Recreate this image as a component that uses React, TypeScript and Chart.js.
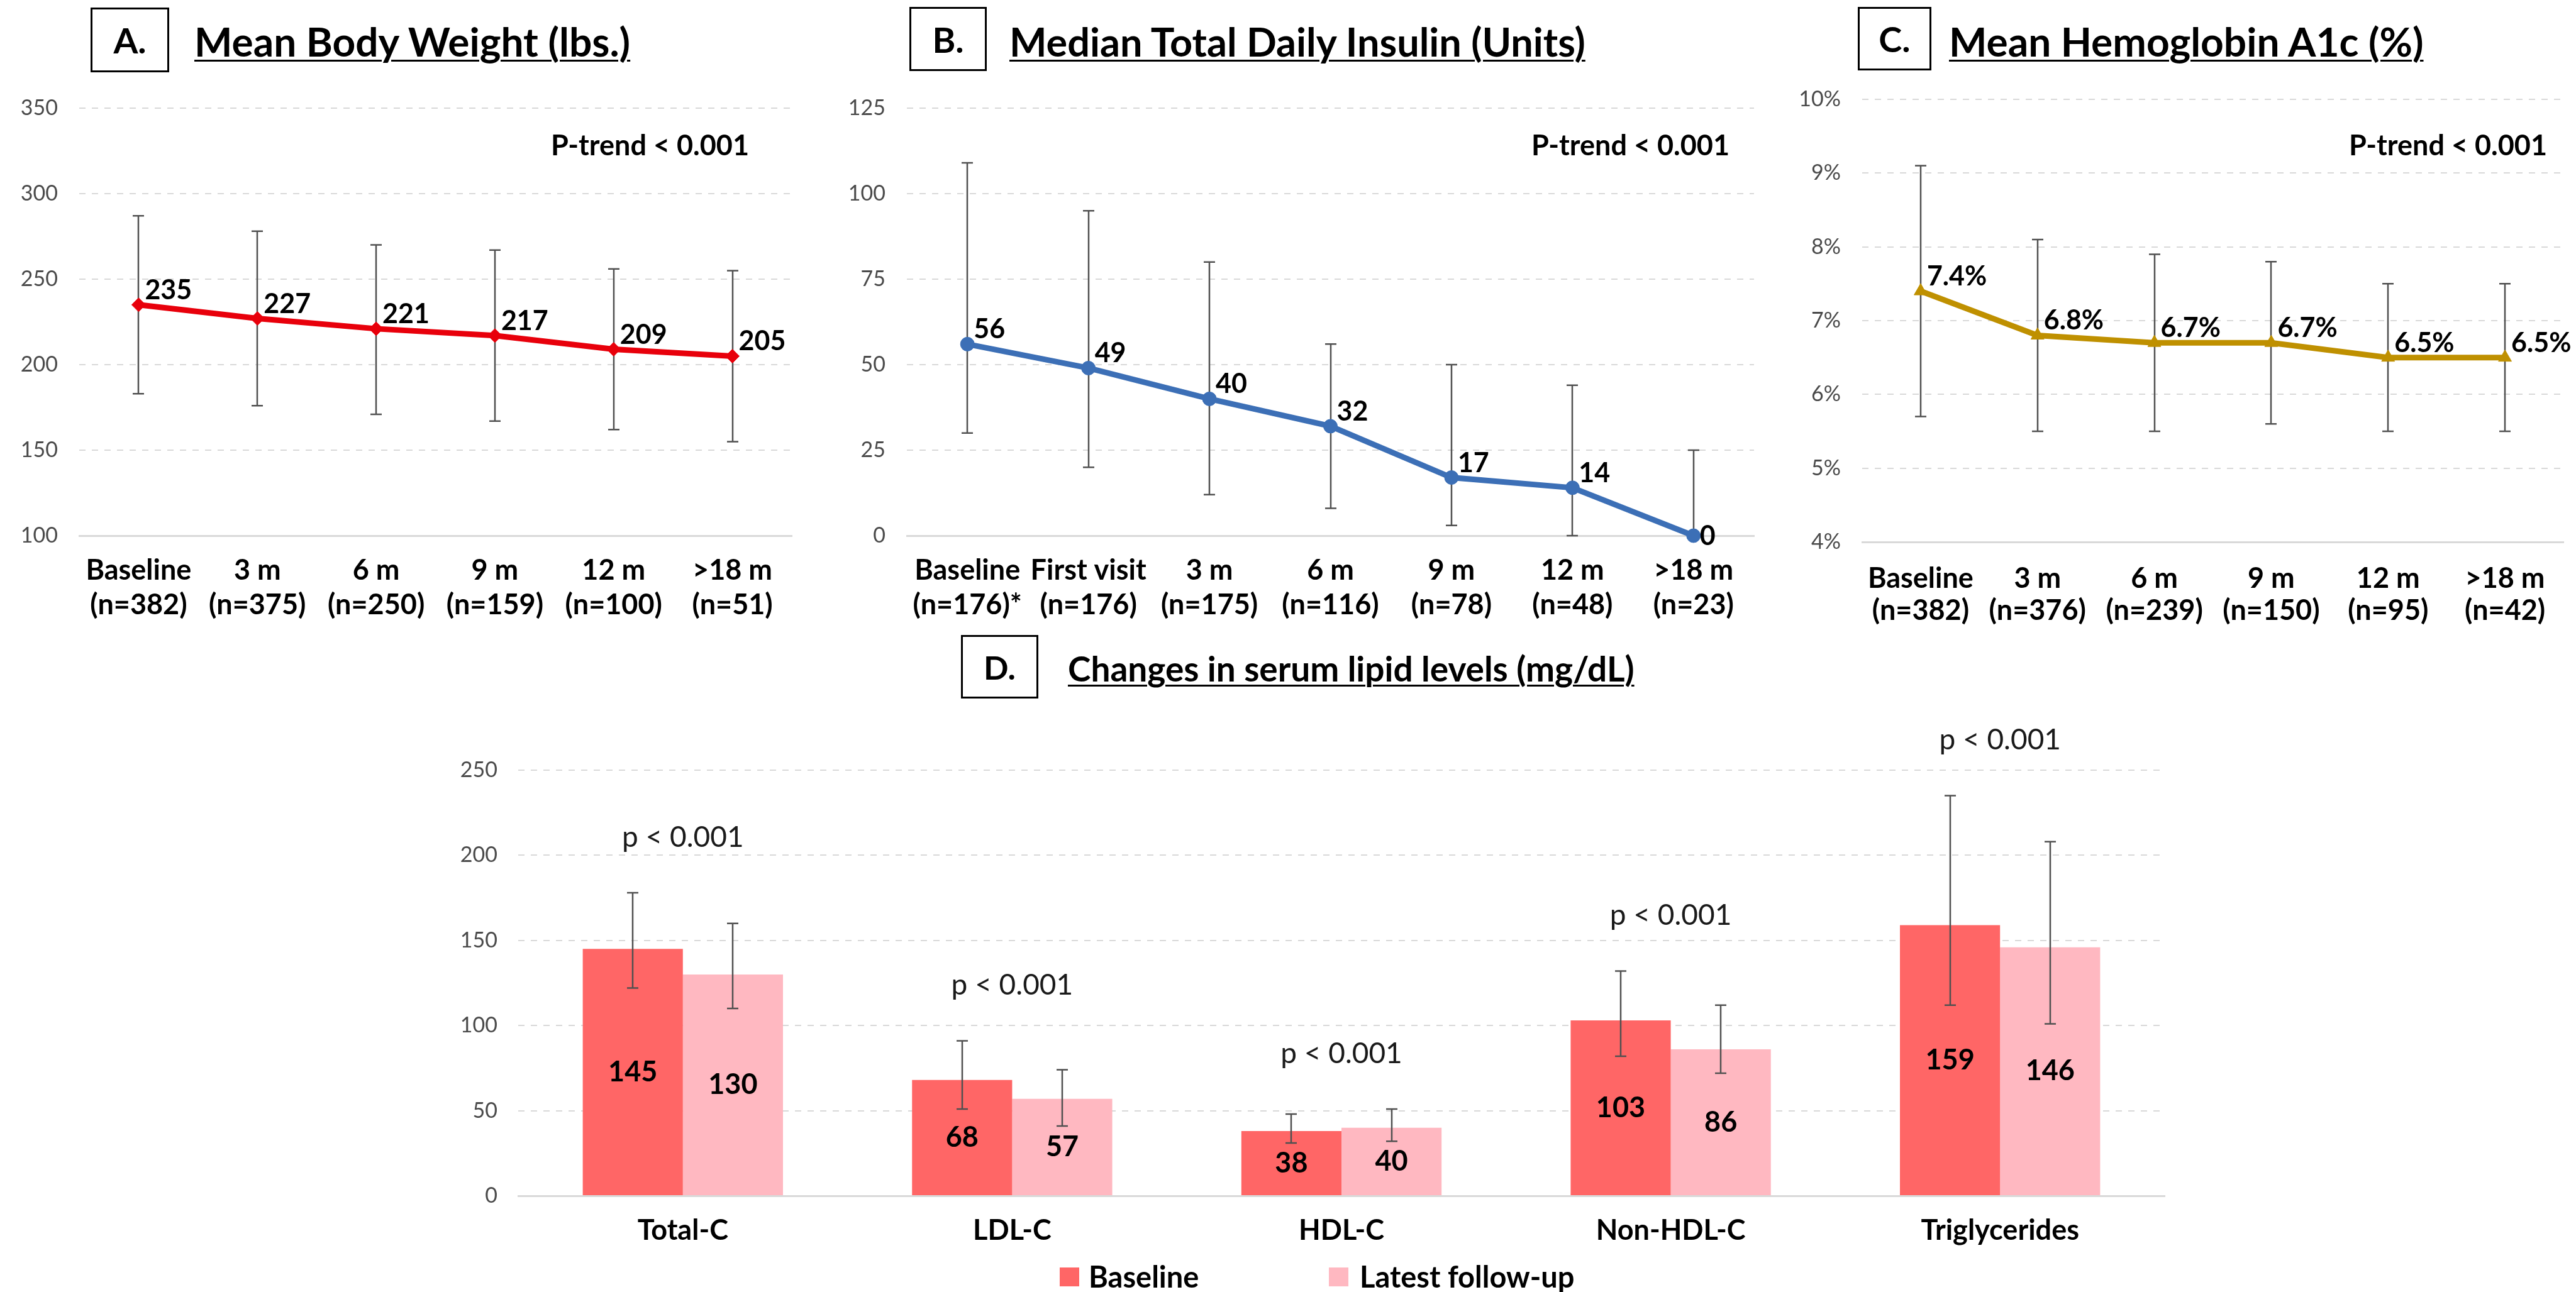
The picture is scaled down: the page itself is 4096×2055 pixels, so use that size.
import React, { useEffect, useRef } from 'react';
import { Chart, registerables } from 'chart.js';

Chart.register(...registerables);

const FONT = "Lato, 'Open Sans', 'DejaVu Sans', sans-serif";

// ---------- Panel A: Mean Body Weight ----------
const weightLabels = [
  ['Baseline', '(n=382)'], ['3 m', '(n=375)'], ['6 m', '(n=250)'],
  ['9 m', '(n=159)'], ['12 m', '(n=100)'], ['>18 m', '(n=51)'],
];
const weightMean = [235, 227, 221, 217, 209, 205];
const weightHigh = [287, 278, 270, 267, 256, 255];
const weightLow = [183, 176, 171, 167, 162, 155];
const weightAxis = [100, 350, 50];

// ---------- Panel B: Median Total Daily Insulin ----------
const insulinLabels = [
  ['Baseline', '(n=176)*'], ['First visit', '(n=176)'], ['3 m', '(n=175)'],
  ['6 m', '(n=116)'], ['9 m', '(n=78)'], ['12 m', '(n=48)'], ['>18 m', '(n=23)'],
];
const insulinMedian = [56, 49, 40, 32, 17, 14, 0];
const insulinHigh = [109, 95, 80, 56, 50, 44, 25];
const insulinLow = [30, 20, 12, 8, 3, 0, 0];
const insulinAxis = [0, 125, 25];

// ---------- Panel C: Mean Hemoglobin A1c ----------
const a1cLabels = [
  ['Baseline', '(n=382)'], ['3 m', '(n=376)'], ['6 m', '(n=239)'],
  ['9 m', '(n=150)'], ['12 m', '(n=95)'], ['>18 m', '(n=42)'],
];
const a1cMean = [7.4, 6.8, 6.7, 6.7, 6.5, 6.5];
const a1cHigh = [9.1, 8.1, 7.9, 7.8, 7.5, 7.5];
const a1cLow = [5.7, 5.5, 5.5, 5.6, 5.5, 5.5];
const a1cAxis = [4, 10, 1];

// ---------- Panel D: Serum lipids ----------
const lipidLabels = ['Total-C', 'LDL-C', 'HDL-C', 'Non-HDL-C', 'Triglycerides'];
const lipidBaseline = [145, 68, 38, 103, 159];
const lipidBaselineHigh = [178, 91, 48, 132, 235];
const lipidBaselineLow = [122, 51, 31, 82, 112];
const lipidFollowup = [130, 57, 40, 86, 146];
const lipidFollowupHigh = [160, 74, 51, 112, 208];
const lipidFollowupLow = [110, 41, 32, 72, 101];
const lipidPValues = ['p < 0.001', 'p < 0.001', 'p < 0.001', 'p < 0.001', 'p < 0.001'];
const lipidSeriesNames = ['Baseline', 'Latest follow-up'];
const lipidAxis = [0, 250, 50];

const pTrendText = 'P-trend < 0.001';

// ---------- shared helpers ----------
const GRID = '#D9D9D9';
const TICK = '#4a4a4a';
const ERR = '#505050';
const CAP = 9;

function drawErrorBars(chart: any, sets: { low: number[]; high: number[] }[]) {
  const ctx = chart.ctx;
  const ys = chart.scales.y;
  ctx.save();
  ctx.strokeStyle = ERR;
  ctx.lineWidth = 2.5;
  sets.forEach((s, di) => {
    const meta = chart.getDatasetMeta(di);
    meta.data.forEach((el: any, i: number) => {
      const x = Math.round(el.x);
      const yh = ys.getPixelForValue(s.high[i]);
      const yl = ys.getPixelForValue(s.low[i]);
      ctx.beginPath();
      ctx.moveTo(x, yh);
      ctx.lineTo(x, yl);
      ctx.moveTo(x - CAP, yh);
      ctx.lineTo(x + CAP, yh);
      ctx.moveTo(x - CAP, yl);
      ctx.lineTo(x + CAP, yl);
      ctx.stroke();
    });
  });
  ctx.restore();
}

type LineSpec = {
  labels: string[][];
  values: number[];
  high: number[];
  low: number[];
  axis: number[];
  color: string;
  pointStyle: string;
  pointRadius: number;
  fmt: (v: number) => string;
  tickFmt: (v: number) => string;
  canvas: { left: number; top: number; width: number; height: number };
  area: { left: number; top: number; right: number; bottom: number };
  xPad: number;
  lineHeight: number;
  pTrendRight: number;
};

function lineConfig(p: LineSpec): any {
  const padTop = p.area.top - p.canvas.top;
  const padRight = p.canvas.left + p.canvas.width - p.area.right;
  const yW = p.area.left - p.canvas.left;
  const xH = p.canvas.top + p.canvas.height - p.area.bottom;
  return {
    type: 'line',
    data: {
      labels: p.labels,
      datasets: [
        {
          data: p.values,
          borderColor: p.color,
          backgroundColor: p.color,
          borderWidth: 9,
          pointStyle: p.pointStyle,
          pointRadius: p.pointRadius,
          pointBorderWidth: 1,
          tension: 0,
          clip: false,
        },
      ],
    },
    options: {
      responsive: false,
      maintainAspectRatio: false,
      animation: false,
      layout: { padding: { top: padTop, right: padRight, left: 0, bottom: 0 } },
      plugins: { legend: { display: false }, tooltip: { enabled: false } },
      scales: {
        x: {
          offset: true,
          grid: { display: false, drawTicks: false },
          border: { display: true, color: GRID, width: 3 },
          ticks: {
            color: '#000',
            font: { family: FONT, size: 45, weight: 'bold', lineHeight: p.lineHeight },
            padding: p.xPad,
            maxRotation: 0,
            autoSkip: false,
          },
          afterFit: (s: any) => { s.height = xH; },
        },
        y: {
          min: p.axis[0],
          max: p.axis[1],
          ticks: {
            stepSize: p.axis[2],
            color: TICK,
            font: { family: FONT, size: 34 },
            padding: 34,
            callback: (v: any) => p.tickFmt(Number(v)),
          },
          grid: { color: GRID, lineWidth: 2, drawTicks: false },
          border: { display: false, dash: [10, 10] },
          afterFit: (s: any) => { s.width = yW; },
        },
      },
    },
    plugins: [
      {
        id: 'errBars',
        beforeDatasetsDraw: (chart: any) => drawErrorBars(chart, [{ low: p.low, high: p.high }]),
      },
      {
        id: 'labels',
        afterDatasetsDraw: (chart: any) => {
          const ctx = chart.ctx;
          const ys = chart.scales.y;
          const size = 43;
          ctx.save();
          ctx.fillStyle = '#000';
          ctx.font = `bold ${size}px ${FONT}`;
          ctx.textAlign = 'left';
          ctx.textBaseline = 'alphabetic';
          const meta = chart.getDatasetMeta(0);
          meta.data.forEach((el: any, i: number) => {
            const v = p.values[i];
            let by = el.y - 9;
            if (v === ys.min) by = el.y + size * 0.36;
            ctx.fillText(p.fmt(v), el.x + 10, by);
          });
          ctx.font = `bold 45px ${FONT}`;
          ctx.textAlign = 'right';
          ctx.textBaseline = 'middle';
          ctx.fillText(pTrendText, chart.chartArea.right - p.pTrendRight, 232 - p.canvas.top);
          ctx.restore();
        },
      },
    ],
  };
}

function barConfig(canvas: any, area: any): any {
  const padTop = area.top - canvas.top;
  const padRight = canvas.left + canvas.width - area.right;
  const yW = area.left - canvas.left;
  const xH = canvas.top + canvas.height - area.bottom;
  const highs = [lipidBaselineHigh, lipidFollowupHigh];
  const lows = [lipidBaselineLow, lipidFollowupLow];
  return {
    type: 'bar',
    data: {
      labels: lipidLabels,
      datasets: [
        {
          label: lipidSeriesNames[0],
          data: lipidBaseline,
          backgroundColor: '#FF6666',
          barPercentage: 1,
          categoryPercentage: 0.608,
        },
        {
          label: lipidSeriesNames[1],
          data: lipidFollowup,
          backgroundColor: '#FFB8C1',
          barPercentage: 1,
          categoryPercentage: 0.608,
        },
      ],
    },
    options: {
      responsive: false,
      maintainAspectRatio: false,
      animation: false,
      layout: { padding: { top: padTop, right: padRight, left: 0, bottom: 0 } },
      plugins: { legend: { display: false }, tooltip: { enabled: false } },
      scales: {
        x: {
          grid: { display: false, drawTicks: false },
          border: { display: true, color: GRID, width: 3 },
          ticks: {
            color: '#000',
            font: { family: FONT, size: 45, weight: 'bold', lineHeight: 1.2 },
            padding: 28,
            maxRotation: 0,
            autoSkip: false,
          },
          afterFit: (s: any) => { s.height = xH; },
        },
        y: {
          min: lipidAxis[0],
          max: lipidAxis[1],
          ticks: {
            stepSize: lipidAxis[2],
            color: TICK,
            font: { family: FONT, size: 34 },
            padding: 33,
          },
          grid: { color: GRID, lineWidth: 2, drawTicks: false },
          border: { display: false, dash: [10, 10] },
          afterFit: (s: any) => { s.width = yW; },
        },
      },
    },
    plugins: [
      {
        id: 'barExtras',
        afterDatasetsDraw: (chart: any) => {
          const ctx = chart.ctx;
          const ys = chart.scales.y;
          const xs = chart.scales.x;
          drawErrorBars(chart, [
            { low: lows[0], high: highs[0] },
            { low: lows[1], high: highs[1] },
          ]);
          ctx.save();
          // values inside bars
          ctx.fillStyle = '#000';
          ctx.font = `bold 45px ${FONT}`;
          ctx.textAlign = 'center';
          ctx.textBaseline = 'middle';
          chart.data.datasets.forEach((ds: any, di: number) => {
            chart.getDatasetMeta(di).data.forEach((el: any, i: number) => {
              ctx.fillText(String(ds.data[i]), el.x, (el.y + el.base) / 2);
            });
          });
          // p-values above each group
          ctx.fillStyle = '#1a1a1a';
          ctx.font = `46px ${FONT}`;
          lipidLabels.forEach((_, i) => {
            const top = Math.max(highs[0][i], highs[1][i]);
            ctx.fillText(lipidPValues[i], xs.getPixelForValue(i), ys.getPixelForValue(top) - 88);
          });
          // legend
          const a = chart.chartArea;
          const ly = 901;
          const items = [
            { x: a.left + 861, tx: a.left + 907 },
            { x: a.left + 1289, tx: a.left + 1338 },
          ];
          ctx.font = `bold 47px ${FONT}`;
          ctx.textAlign = 'left';
          chart.data.datasets.forEach((ds: any, di: number) => {
            const it = items[di];
            ctx.fillStyle = ds.backgroundColor;
            ctx.fillRect(it.x, ly - 15, 31, 30);
            ctx.fillStyle = '#000';
            ctx.fillText(ds.label, it.tx, ly + 2);
          });
          ctx.restore();
        },
      },
    ],
  };
}

function ChartCanvas({ make, box }: { make: () => any; box: any }) {
  const ref = useRef<HTMLCanvasElement | null>(null);
  useEffect(() => {
    if (!ref.current) return;
    const chart = new Chart(ref.current, make());
    return () => chart.destroy();
  }, []);
  return (
    <canvas
      ref={ref}
      width={box.width}
      height={box.height}
      style={{ position: 'absolute', left: box.left, top: box.top, width: box.width, height: box.height }}
    />
  );
}

function PanelTitle(props: {
  letter: string; text: string; bl: number; bt: number; bw: number; bh: number;
  tl: number; tt: number; size: number; letterSize: number;
}) {
  return (
    <>
      <div
        style={{
          position: 'absolute', left: props.bl, top: props.bt, width: props.bw, height: props.bh,
          border: '3px solid #000', boxSizing: 'border-box', display: 'flex',
          alignItems: 'center', justifyContent: 'center', fontFamily: FONT,
          fontWeight: 'bold', fontSize: props.letterSize, color: '#000', background: '#fff',
        }}
      >
        {props.letter}
      </div>
      <div
        style={{
          position: 'absolute', left: props.tl, top: props.tt, fontFamily: FONT, fontWeight: 'bold',
          fontSize: props.size, lineHeight: 1, whiteSpace: 'nowrap', color: '#000',
          textDecoration: 'underline', textDecorationThickness: '3px', textUnderlineOffset: '5px',
        }}
      >
        {props.text}
      </div>
    </>
  );
}

const boxA = { left: 0, top: 100, width: 1290, height: 940 };
const boxB = { left: 1300, top: 100, width: 1520, height: 940 };
const boxC = { left: 2830, top: 100, width: 1266, height: 940 };
const boxD = { left: 700, top: 1130, width: 2800, height: 925 };

export default function App() {
  return (
    <div
      style={{
        position: 'fixed', left: 0, top: 0, width: 4096, height: 2055,
        background: '#fff', overflow: 'hidden',
      }}
    >
      <ChartCanvas
        box={boxA}
        make={() =>
          lineConfig({
            labels: weightLabels, values: weightMean, high: weightHigh, low: weightLow,
            axis: weightAxis, color: '#E8000B', pointStyle: 'rectRot', pointRadius: 11,
            fmt: (v) => String(v), tickFmt: (v) => String(v),
            canvas: boxA, area: { left: 126, top: 172, right: 1259, bottom: 852 },
            xPad: 28, lineHeight: 1.22, pTrendRight: 68,
          })
        }
      />
      <ChartCanvas
        box={boxB}
        make={() =>
          lineConfig({
            labels: insulinLabels, values: insulinMedian, high: insulinHigh, low: insulinLow,
            axis: insulinAxis, color: '#3C6FB6', pointStyle: 'circle', pointRadius: 11,
            fmt: (v) => String(v), tickFmt: (v) => String(v),
            canvas: boxB, area: { left: 1442, top: 172, right: 2789, bottom: 852 },
            xPad: 28, lineHeight: 1.22, pTrendRight: 39,
          })
        }
      />
      <ChartCanvas
        box={boxC}
        make={() =>
          lineConfig({
            labels: a1cLabels, values: a1cMean, high: a1cHigh, low: a1cLow,
            axis: a1cAxis, color: '#BF9000', pointStyle: 'triangle', pointRadius: 12,
            fmt: (v) => v.toFixed(1) + '%', tickFmt: (v) => v + '%',
            canvas: boxC, area: { left: 2961, top: 158, right: 4076, bottom: 862 },
            xPad: 33, lineHeight: 1.14, pTrendRight: 26,
          })
        }
      />
      <ChartCanvas
        box={boxD}
        make={() => barConfig(boxD, { left: 824, top: 1225, right: 3442, bottom: 1902 })}
      />
      <PanelTitle letter="A." text="Mean Body Weight (lbs.)" bl={144} bt={12} bw={125} bh={103}
        tl={309} tt={34} size={64} letterSize={56} />
      <PanelTitle letter="B." text="Median Total Daily Insulin (Units)" bl={1446} bt={11} bw={123} bh={102}
        tl={1605} tt={34} size={63} letterSize={56} />
      <PanelTitle letter="C." text="Mean Hemoglobin A1c (%)" bl={2954} bt={11} bw={117} bh={101}
        tl={3099} tt={34} size={64} letterSize={56} />
      <PanelTitle letter="D." text="Changes in serum lipid levels (mg/dL)" bl={1528} bt={1010} bw={123} bh={101}
        tl={1698} tt={1036} size={55} letterSize={52} />
    </div>
  );
}
